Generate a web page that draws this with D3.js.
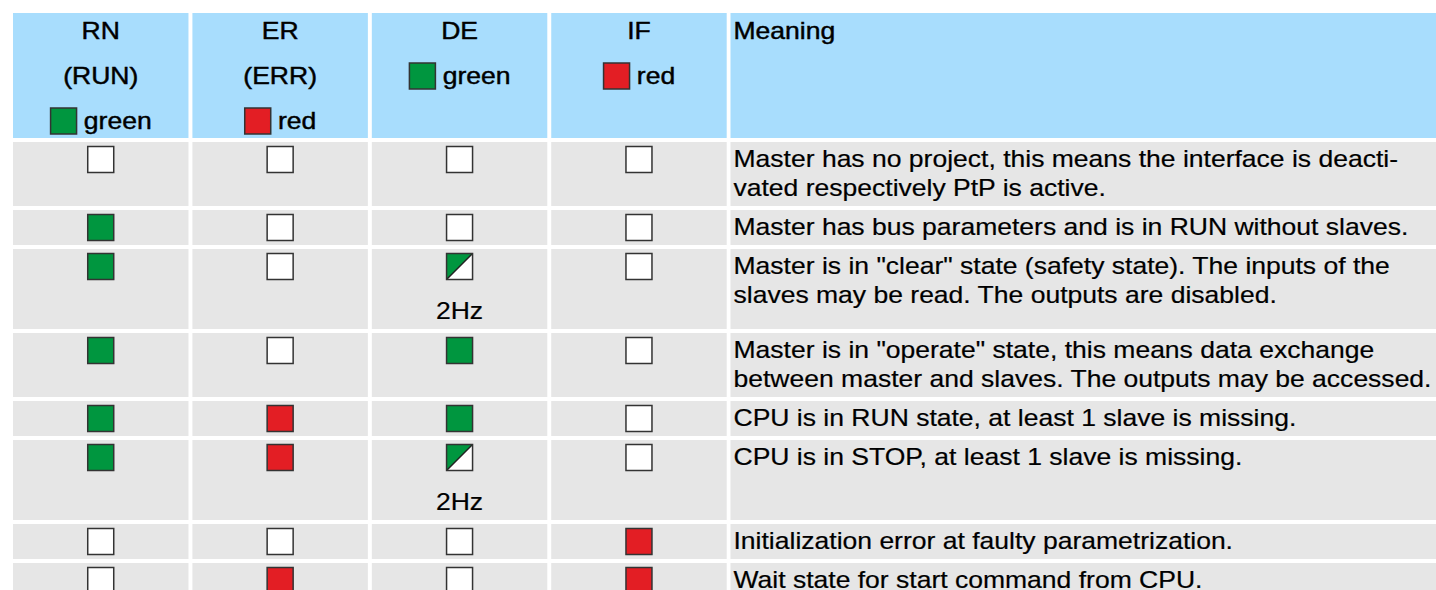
<!DOCTYPE html>
<html><head><meta charset="utf-8">
<script src="https://cdn.jsdelivr.net/npm/d3@7"></script>
<style>
html,body{margin:0;padding:0;background:#fff;}
svg{display:block;font-family:"Liberation Sans",Arial,sans-serif;}
</style></head>
<body>
<svg id="c" width="1436" height="590"></svg>
<script>
// ---- data ----
const ledColumns = ["RN", "ER", "DE", "IF"];
const headerLines = [["RN", "(RUN)"], ["ER", "(ERR)"], ["DE"], ["IF"]];
const headerColors = ["green", "red", "green", "red"];
const meaningHeader = "Meaning";
// states: 0 = off, 1 = on, 2 = blinking 2Hz
const rnStates = [0, 1, 1, 1, 1, 1, 0, 0];
const erStates = [0, 0, 0, 0, 1, 1, 0, 1];
const deStates = [0, 0, 2, 1, 1, 2, 0, 0];
const ifStates = [0, 0, 0, 0, 0, 0, 1, 1];
const meanings = [
  ["Master has no project, this means the interface is deacti-", "vated respectively PtP is active."],
  ["Master has bus parameters and is in RUN without slaves."],
  ["Master is in \"clear\" state (safety state). The inputs of the", "slaves may be read. The outputs are disabled."],
  ["Master is in \"operate\" state, this means data exchange", "between master and slaves. The outputs may be accessed."],
  ["CPU is in RUN state, at least 1 slave is missing."],
  ["CPU is in STOP, at least 1 slave is missing."],
  ["Initialization error at faulty parametrization."],
  ["Wait state for start command from CPU."]
];
const blinkLabel = "2Hz";

// ---- styles ----
const colorMap = {green: "#00963f", red: "#e31e24"};
const headerBg = "#a8ddfd";
const rowBg = "#e6e6e6";
const boxStroke = "#333";
const fontSize = 24;
const sx = 1.105;

const svg = d3.select("#c");
const W = 1436;
const x = d3.scaleBand().domain(ledColumns).range([13, 726.7]).paddingInner(0.022).paddingOuter(0);
const meaningX0 = 730.5;
const tableTop = 13, headerH = 125, gap = 4;

const stateCols = [rnStates, erStates, deStates, ifStates];

function addText(g, tx, ty, t, anchor, heavy) {
  return g.append("text")
    .attr("transform", `translate(${tx},${ty}) scale(${sx},1)`)
    .attr("text-anchor", anchor || "start")
    .attr("font-size", fontSize)
    .attr("fill", "#000")
    .attr("stroke", "#000")
    .attr("stroke-width", heavy ? 0.45 : 0.2)
    .text(t);
}

// row layout
const rows = meanings.map((m, i) => {
  const blink = stateCols.some(s => s[i] === 2);
  const h = blink ? 80 : 35 + 29 * (m.length - 1);
  return {i, m, blink, h};
});
let yAcc = tableTop + headerH + gap;
rows.forEach(r => { r.y = yAcc; yAcc += r.h + gap; });

// header
const hdr = svg.append("g");
ledColumns.forEach((c, ci) => {
  hdr.append("rect").attr("x", x(c)).attr("y", tableTop).attr("width", x.bandwidth()).attr("height", headerH).attr("fill", headerBg);
  const cx = x(c) + x.bandwidth() / 2;
  const lines = headerLines[ci];
  lines.forEach((t, li) => addText(hdr, cx, tableTop + 26 + li * 45, t, "middle", true));
  const by = tableTop + 26 + lines.length * 45;
  const lg = hdr.append("g");
  const tx = addText(lg, 34, by, headerColors[ci], "start", true);
  lg.append("rect").attr("x", 0.75).attr("y", by - 21).attr("width", 26).attr("height", 26)
    .attr("fill", colorMap[headerColors[ci]]).attr("stroke", boxStroke).attr("stroke-width", 1.5);
  const tw = 34 + tx.node().getComputedTextLength() * sx;
  lg.attr("transform", `translate(${cx - tw / 2},0)`);
});
hdr.append("rect").attr("x", meaningX0).attr("y", tableTop).attr("width", W - meaningX0).attr("height", headerH).attr("fill", headerBg);
addText(hdr, meaningX0 + 3, tableTop + 26, meaningHeader, "start", true);

// body rows
const body = svg.append("g");
rows.forEach(r => {
  ledColumns.forEach((c, ci) => {
    body.append("rect").attr("x", x(c)).attr("y", r.y).attr("width", x.bandwidth()).attr("height", r.h).attr("fill", rowBg);
    const s = stateCols[ci][r.i];
    const bx = x(c) + x.bandwidth() / 2 - 13, by = r.y + 4.5;
    const col = colorMap[headerColors[ci]];
    if (s === 2) {
      body.append("rect").attr("x", bx).attr("y", by).attr("width", 26).attr("height", 26).attr("fill", "#fff");
      body.append("path").attr("d", `M${bx},${by}L${bx + 26},${by}L${bx},${by + 26}Z`).attr("fill", col);
      body.append("line").attr("x1", bx).attr("y1", by + 26).attr("x2", bx + 26).attr("y2", by).attr("stroke", "#222").attr("stroke-width", 1.5);
      body.append("rect").attr("x", bx).attr("y", by).attr("width", 26).attr("height", 26).attr("fill", "none").attr("stroke", boxStroke).attr("stroke-width", 1.5);
      addText(body, x(c) + x.bandwidth() / 2, r.y + 70, blinkLabel, "middle", false);
    } else {
      body.append("rect").attr("x", bx).attr("y", by).attr("width", 26).attr("height", 26)
        .attr("fill", s === 1 ? col : "#fff").attr("stroke", boxStroke).attr("stroke-width", 1.5);
    }
  });
  body.append("rect").attr("x", meaningX0).attr("y", r.y).attr("width", W - meaningX0).attr("height", r.h).attr("fill", rowBg);
  r.m.forEach((t, li) => addText(body, meaningX0 + 3, r.y + 25 + li * 29, t, "start", false));
});
</script>
</body></html>
